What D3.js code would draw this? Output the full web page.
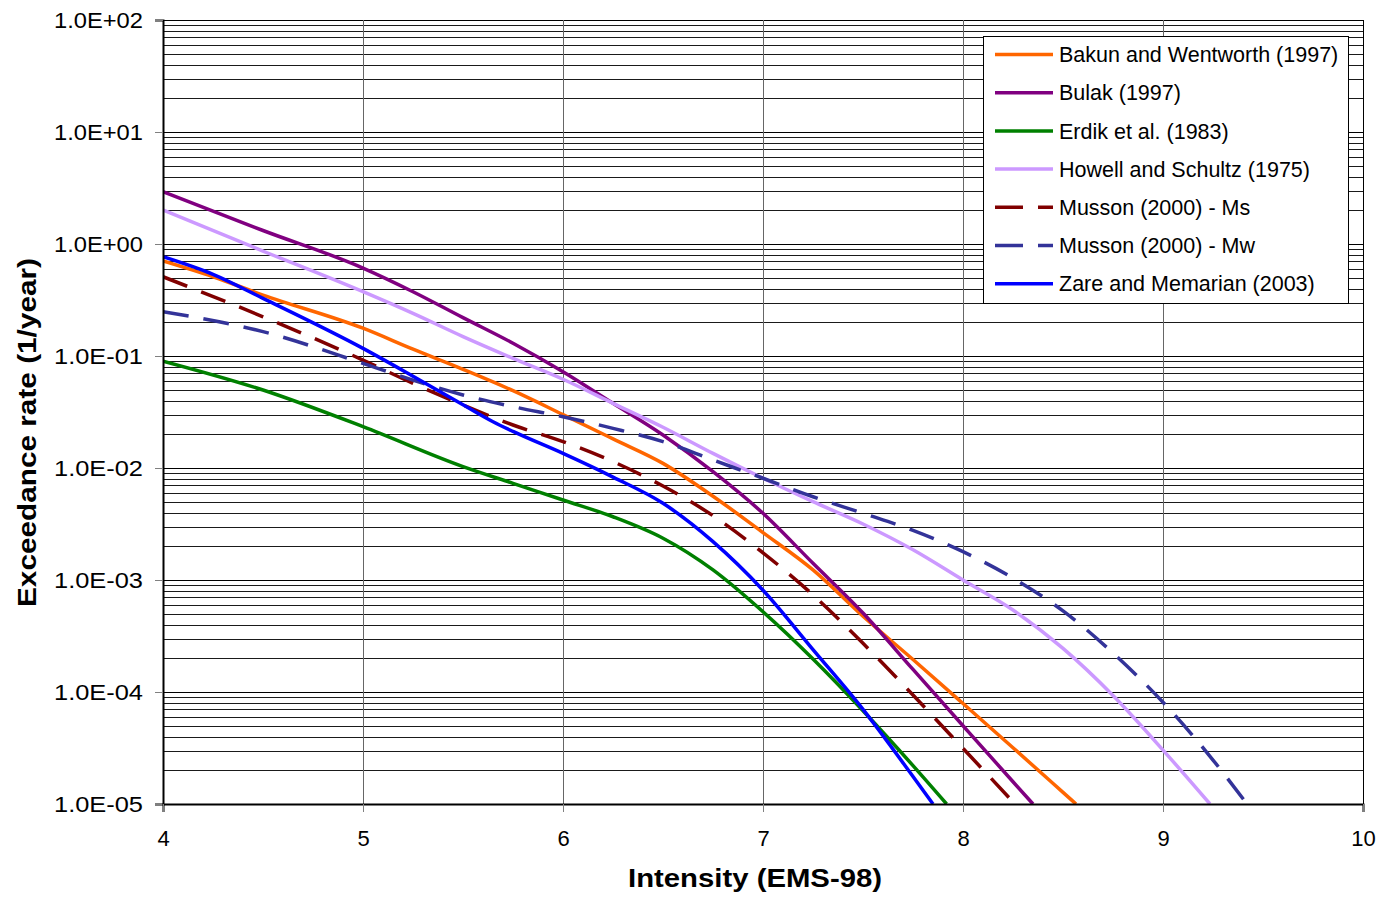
<!DOCTYPE html>
<html>
<head>
<meta charset="utf-8">
<script src="https://cdn.jsdelivr.net/npm/d3@7"></script>
<style>
  html, body { margin: 0; padding: 0; background: #fff; }
  svg { display: block; }
  text { font-family: "Liberation Sans", Arial, sans-serif; fill: #000; }
</style>
</head>
<body>
<svg id="chart" width="1383" height="907"></svg>
<script>
// ---- Data ----
const seriesNames = [
  "Bakun and Wentworth (1997)",
  "Bulak (1997)",
  "Erdik et al. (1983)",
  "Howell and Schultz (1975)",
  "Musson (2000) - Ms",
  "Musson (2000) - Mw",
  "Zare and Memarian (2003)"
];

const bakunX = [4, 4.25, 4.5, 5, 5.25, 5.5, 5.75, 6, 6.25, 6.5, 6.75, 7, 7.25, 7.5, 7.75, 8, 8.25, 8.5, 8.565];
const bakunY = [0.705, 0.51, 0.35, 0.177, 0.115, 0.076, 0.049, 0.030, 0.0182, 0.011, 0.0056, 0.00265, 0.00123, 4.74e-4, 1.95e-4, 7.9e-5, 3.18e-5, 1.27e-5, 1e-5];

const bulakX = [4, 4.5, 5, 5.25, 5.5, 5.75, 6, 6.25, 6.5, 6.75, 7, 7.25, 7.5, 7.75, 8, 8.25, 8.35];
const bulakY = [2.93, 1.32, 0.61, 0.375, 0.22, 0.13, 0.0724, 0.0378, 0.0197, 0.00927, 0.00394, 0.00141, 5.07e-4, 1.59e-4, 5.0e-5, 1.58e-5, 1e-5];

const erdikX = [4, 4.5, 5, 5.5, 5.75, 6, 6.25, 6.5, 6.75, 7, 7.25, 7.5, 7.75, 7.918];
const erdikY = [0.090, 0.0497, 0.0234, 0.0103, 0.0073, 0.00518, 0.00367, 0.00236, 0.00123, 5.2e-4, 1.97e-4, 6.8e-5, 2.2e-5, 1e-5];

const howellX = [4, 4.5, 5, 5.25, 5.5, 5.75, 6, 6.25, 6.5, 6.75, 7, 7.25, 7.5, 7.75, 8, 8.25, 8.5, 8.75, 9, 9.235];
const howellY = [2.01, 0.865, 0.375, 0.24, 0.149, 0.0953, 0.062, 0.0378, 0.0231, 0.0135, 0.0081, 0.0050, 0.00316, 0.00186, 0.001, 5.4e-4, 2.45e-4, 9.3e-5, 3.03e-5, 1e-5];

const mussonMsX = [4, 4.5, 5, 5.25, 5.5, 5.75, 6, 6.25, 6.5, 6.75, 7, 7.25, 7.5, 7.75, 8, 8.26];
const mussonMsY = [0.51, 0.224, 0.092, 0.057, 0.0365, 0.0242, 0.0172, 0.0114, 0.0069, 0.00375, 0.00175, 7.35e-4, 2.72e-4, 9.4e-5, 3.14e-5, 1e-5];

const mussonMwX = [4, 4.5, 5, 5.25, 5.5, 5.75, 6, 6.25, 6.5, 6.75, 7, 7.25, 7.5, 7.75, 8, 8.25, 8.5, 8.75, 9, 9.25, 9.42];
const mussonMwY = [0.249, 0.165, 0.086, 0.061, 0.0449, 0.0353, 0.0287, 0.0226, 0.0172, 0.0118, 0.0081, 0.00554, 0.00394, 0.00277, 0.00179, 1.04e-3, 5.3e-4, 2.23e-4, 8.1e-5, 2.47e-5, 1e-5];

const zareX = [4, 4.25, 4.5, 5, 5.25, 5.5, 5.65, 5.75, 6, 6.25, 6.5, 6.75, 7, 7.25, 7.5, 7.75, 7.85];
const zareY = [0.77, 0.536, 0.327, 0.117, 0.066, 0.0367, 0.0259, 0.0212, 0.0135, 0.0083, 0.00484, 0.0022, 8.1e-4, 2.39e-4, 7.0e-5, 1.76e-5, 1e-5];

const xTickValues = [4, 5, 6, 7, 8, 9, 10];
const yTickValues = [1e-5, 1e-4, 1e-3, 1e-2, 1e-1, 1e0, 1e1, 1e2];
const yTickLabels = ["1.0E-05", "1.0E-04", "1.0E-03", "1.0E-02", "1.0E-01", "1.0E+00", "1.0E+01", "1.0E+02"];
const xTitle = "Intensity (EMS-98)";
const yTitle = "Exceedance rate (1/year)";

// ---- Styling per series ----
const seriesColors = ["#FF6600", "#800080", "#008000", "#CC99FF", "#800000", "#333399", "#0000FF"];
const seriesDash = [null, null, null, null, "26,15", "26,15", null];

const seriesX = [bakunX, bulakX, erdikX, howellX, mussonMsX, mussonMwX, zareX];
const seriesY = [bakunY, bulakY, erdikY, howellY, mussonMsY, mussonMwY, zareY];

// ---- Layout ----
const svg = d3.select("#chart");
const plot = { left: 163, right: 1363, top: 20, bottom: 804 };

const x = d3.scaleLinear().domain([4, 10]).range([plot.left, plot.right]);
const y = d3.scaleLog().domain([1e-5, 1e2]).range([plot.bottom, plot.top]);

// Minor horizontal grid
const minorVals = [];
for (let e = -5; e < 2; e++) {
  for (let k = 2; k <= 9; k++) minorVals.push(k * Math.pow(10, e));
}
const grid = svg.append("g").attr("shape-rendering", "crispEdges");
grid.selectAll("line.minor").data(minorVals).join("line")
  .attr("x1", plot.left).attr("x2", plot.right)
  .attr("y1", d => Math.round(y(d)) + 0.5).attr("y2", d => Math.round(y(d)) + 0.5)
  .attr("stroke", "#1a1a1a").attr("stroke-width", 1);
grid.selectAll("line.major").data(yTickValues).join("line")
  .attr("x1", plot.left).attr("x2", plot.right)
  .attr("y1", d => Math.round(y(d)) + 0.5).attr("y2", d => Math.round(y(d)) + 0.5)
  .attr("stroke", "#000").attr("stroke-width", 1);
// Vertical grid
grid.selectAll("line.vgrid").data(xTickValues.slice(1, -1)).join("line")
  .attr("x1", d => Math.round(x(d)) + 0.5).attr("x2", d => Math.round(x(d)) + 0.5)
  .attr("y1", plot.top).attr("y2", plot.bottom)
  .attr("stroke", "#666").attr("stroke-width", 1);
// right border
grid.append("line")
  .attr("x1", plot.right + 0.5).attr("x2", plot.right + 0.5)
  .attr("y1", plot.top).attr("y2", plot.bottom)
  .attr("stroke", "#000").attr("stroke-width", 1);

// ---- Series ----
const clipId = "plotclip";
svg.append("clipPath").attr("id", clipId).append("rect")
  .attr("x", plot.left).attr("y", plot.top - 2)
  .attr("width", plot.right - plot.left).attr("height", plot.bottom - plot.top + 2);

const line = d3.line()
  .x(d => x(d[0])).y(d => y(d[1]))
  .curve(d3.curveMonotoneX);

const seriesG = svg.append("g").attr("clip-path", `url(#${clipId})`);
seriesNames.forEach((name, i) => {
  const pts = seriesX[i].map((v, j) => [v, seriesY[i][j]]);
  seriesG.append("path")
    .datum(pts)
    .attr("d", line)
    .attr("fill", "none")
    .attr("stroke", seriesColors[i])
    .attr("stroke-width", 3.5)
    .attr("stroke-linejoin", "round")
    .attr("stroke-dasharray", seriesDash[i]);
});

// ---- Axes ----
const yAxis = d3.axisLeft(y)
  .tickValues(yTickValues)
  .tickFormat((d, i) => yTickLabels[i])
  .tickSize(8).tickPadding(12);
const yG = svg.append("g").attr("transform", `translate(${plot.left},0)`).call(yAxis);
yG.select(".domain").attr("stroke", "#000").attr("stroke-width", 2);
yG.selectAll(".tick line").attr("stroke", "#808080").attr("stroke-width", 1);
yG.selectAll(".tick text")
  .attr("font-size", 22)
  .attr("font-family", "Liberation Sans, Arial, sans-serif")
  .attr("textLength", 89).attr("lengthAdjust", "spacingAndGlyphs");

const xAxis = d3.axisBottom(x)
  .tickValues(xTickValues)
  .tickFormat(d3.format("d"))
  .tickSize(8).tickPadding(18);
const xG = svg.append("g").attr("transform", `translate(0,${plot.bottom})`).call(xAxis);
xG.select(".domain").attr("stroke", "#000").attr("stroke-width", 2);
xG.selectAll(".tick line").attr("stroke", "#808080").attr("stroke-width", 1);
xG.selectAll(".tick text")
  .attr("font-size", 22)
  .attr("font-family", "Liberation Sans, Arial, sans-serif");

// ---- Axis titles ----
svg.append("text")
  .attr("x", 755).attr("y", 887)
  .attr("text-anchor", "middle")
  .attr("font-size", 25).attr("font-weight", "bold")
  .attr("textLength", 254).attr("lengthAdjust", "spacingAndGlyphs")
  .text(xTitle);

svg.append("text")
  .attr("transform", "translate(36,432.5) rotate(-90)")
  .attr("text-anchor", "middle")
  .attr("font-size", 25).attr("font-weight", "bold")
  .attr("textLength", 349).attr("lengthAdjust", "spacingAndGlyphs")
  .text(yTitle);

// ---- Legend ----
const legend = svg.append("g");
legend.append("rect")
  .attr("x", 983.5).attr("y", 36.5).attr("width", 365).attr("height", 267)
  .attr("fill", "#fff").attr("stroke", "#000").attr("stroke-width", 1);
seriesNames.forEach((name, i) => {
  const cy = 54.5 + i * 38.2;
  legend.append("line")
    .attr("x1", 995).attr("x2", 1053).attr("y1", cy).attr("y2", cy)
    .attr("stroke", seriesColors[i]).attr("stroke-width", 3.5)
    .attr("stroke-dasharray", seriesDash[i] ? "28,15" : null);
  legend.append("text")
    .attr("x", 1059).attr("y", cy).attr("dy", "0.36em")
    .attr("font-size", 21.5)
    .text(name);
});
</script>
</body>
</html>
